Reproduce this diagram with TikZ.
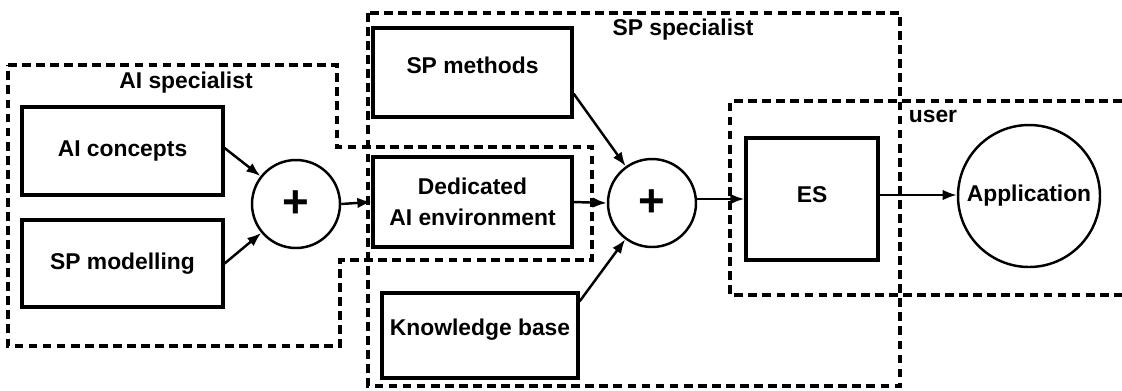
\documentclass[tikz,border=0pt]{standalone}
\usepackage{fontspec}
\setmainfont{Liberation Sans}
\usetikzlibrary{arrows.meta,calc}

\begin{document}
\begin{tikzpicture}[x=0.02cm,y=-0.02cm,
  every node/.style={font=\fontsize{13}{18}\selectfont\bfseries},
  blockbox/.style={draw,line width=1.8pt,minimum width=#1,inner sep=0pt},
  sumnode/.style={draw,circle,line width=1.4pt,minimum size=88*0.02cm,inner sep=0pt,
    font=\fontsize{26}{26}\selectfont\bfseries},
  region/.style={line width=2pt,dash pattern=on 5pt off 3pt},
  arr/.style={line width=1.4pt,-{Latex[length=8pt,width=6pt]}},
  lbl/.style={inner sep=0pt}]
\useasboundingbox (0,0) rectangle (1122,390);

% groups of people
\draw[region] (8,65) -- (337,65) -- (337,147) -- (592,147) -- (592,260)
  -- (340,260) -- (340,346) -- (8,346) -- cycle;
\node[lbl] (lai) at (186,83) {AI specialist};
\draw[region] (368,13) rectangle (900,386);
\node[lbl] (lsp) at (683,30) {SP specialist};
\draw[region] (1122,101) -- (730,101) -- (730,295) -- (1122,295);
\node[lbl] (lus) at (933,116) {user};

% blocks
\node[blockbox=201*0.02cm,minimum height=88*0.02cm] (aic) at (122.5,151) {AI concepts};
\node[blockbox=201*0.02cm,minimum height=87*0.02cm] (spm) at (122.5,263.5) {SP modelling};
\node[blockbox=199*0.02cm,minimum height=89*0.02cm] (spmeth) at (472.5,72.5) {};
\node[lbl] at (472.5,65) {SP methods};
\node[blockbox=199*0.02cm,minimum height=90*0.02cm,align=center] (ded) at (472.5,202)
  {Dedicated\\AI environment};
\node[blockbox=196*0.02cm,minimum height=85*0.02cm] (kb) at (480,335.5) {};
\node[lbl] at (480,330) {Knowledge base};
\node[blockbox=132*0.02cm,minimum height=122*0.02cm] (es) at (812,199) {};
\node[lbl] at (812,195) {ES};

\node[sumnode] (p1) at (296,204) {+};
\node[sumnode] (p2) at (652,203) {+};
\node[draw,circle,line width=1.4pt,minimum size=142*0.02cm,inner sep=0pt] (app) at (1029,196) {};
\node[lbl] at (1029,196) {Application};

% connectors
\draw[arr] ($(aic.east)+(0,-3)$) -- (p1);
\draw[arr] (spm.east) -- (p1);
\draw[arr] (p1.east) -- (ded.west);
\draw[arr] ($(spmeth.east)+(0,21)$) -- (p2);
\draw[arr] (ded.east) -- (p2.west);
\draw[arr] ($(kb.north east)+(0,10)$) -- (p2);
\draw[arr] (p2.east |- es.west) -- (es.west);
\draw[arr] ($(es.east)+(0,-4)$) -- ($(app.west)+(0,-1)$);
\end{tikzpicture}
\end{document}
